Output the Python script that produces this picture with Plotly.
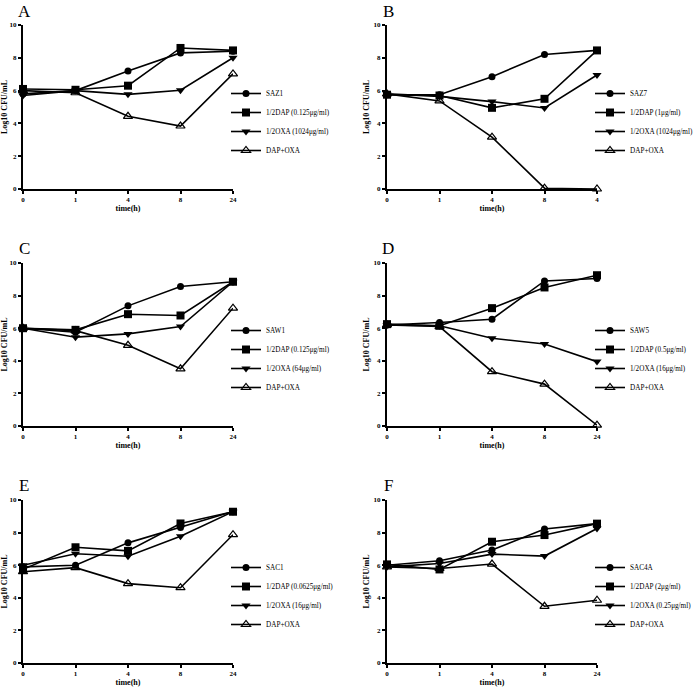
import plotly.graph_objects as go

W, H = 696, 687

panel_letters = ["A", "B", "C", "D", "E", "F"]
x_ticktext = [
    ["0", "1", "4", "8", "24"],
    ["0", "1", "4", "8", "4"],
    ["0", "1", "4", "8", "24"],
    ["0", "1", "4", "8", "24"],
    ["0", "1", "4", "8", "24"],
    ["0", "1", "4", "8", "24"],
]
time_points = [0, 1, 2, 3, 4]  # categorical positions for 0,1,4,8,24 h

strain_names = ["SAZ1", "SAZ7", "SAW1", "SAW5", "SAC1", "SAC4A"]
dap_labels = ["1/2DAP (0.125μg/ml)", "1/2DAP (1μg/ml)", "1/2DAP (0.125μg/ml)",
              "1/2DAP (0.5μg/ml)", "1/2DAP (0.0625μg/ml)", "1/2DAP (2μg/ml)"]
oxa_labels = ["1/2OXA (1024μg/ml)", "1/2OXA (1024μg/ml)", "1/2OXA (64μg/ml)",
              "1/2OXA (16μg/ml)", "1/2OXA (16μg/ml)", "1/2OXA (0.25μg/ml)"]
combo_label = "DAP+OXA"

# Log10 CFU/mL values per panel
control_vals = [
    [5.8, 6.0, 7.2, 8.3, 8.4],
    [5.75, 5.75, 6.85, 8.2, 8.45],
    [6.0, 5.75, 7.37, 8.56, 8.85],
    [6.2, 6.35, 6.55, 8.9, 9.05],
    [5.9, 6.0, 7.37, 8.32, 9.3],
    [6.0, 6.27, 6.93, 8.22, 8.55],
]
dap_vals = [
    [6.1, 6.05, 6.3, 8.6, 8.45],
    [5.75, 5.7, 4.95, 5.5, 8.45],
    [6.0, 5.9, 6.86, 6.78, 8.85],
    [6.25, 6.15, 7.23, 8.5, 9.25],
    [5.75, 7.1, 6.88, 8.56, 9.28],
    [6.05, 5.74, 7.44, 7.85, 8.55],
]
oxa_vals = [
    [5.7, 6.0, 5.77, 6.02, 8.0],
    [5.8, 5.65, 5.33, 4.94, 6.95],
    [6.0, 5.45, 5.65, 6.1, 8.85],
    [6.2, 6.15, 5.38, 5.03, 3.95],
    [6.0, 6.7, 6.55, 7.78, 9.28],
    [5.9, 6.1, 6.68, 6.56, 8.25],
]
combo_vals = [
    [6.0, 5.87, 4.43, 3.84, 7.02],
    [5.8, 5.37, 3.16, 0.05, 0.0],
    [6.0, 5.85, 4.95, 3.51, 7.23],
    [6.2, 6.1, 3.33, 2.57, 0.05],
    [5.6, 5.85, 4.87, 4.62, 7.87],
    [5.9, 5.8, 6.07, 3.48, 3.85],
]

# panel pixel boxes (left, right, top, bottom)
col_x = [(23, 233), (387, 597)]
row_y = [(25, 189), (263, 426), (500, 663)]

FONT = "Liberation Serif"
fig = go.Figure()
layout = dict(
    width=W, height=H, margin=dict(l=0, r=0, t=0, b=0, autoexpand=False),
    paper_bgcolor="white", plot_bgcolor="white", showlegend=True,
    font=dict(family=FONT, color="black"),
)
annotations = []

for i in range(6):
    r, c = divmod(i, 2)
    x0, x1 = col_x[c]
    y0, y1 = row_y[r]
    ax = "" if i == 0 else str(i + 1)
    xa, ya = "x" + ax, "y" + ax
    lg = "legend" + ("" if i == 0 else str(i + 1))
    series = [
        (strain_names[i], control_vals[i], dict(symbol="circle", size=7, color="black")),
        (dap_labels[i], dap_vals[i], dict(symbol="square", size=8, color="black")),
        (oxa_labels[i], oxa_vals[i], dict(symbol="triangle-down", size=8, color="black")),
        (combo_label, combo_vals[i], dict(symbol="triangle-up-open", size=8, color="black",
                                          line=dict(width=1.2, color="black"))),
    ]
    for name, vals, mk in series:
        fig.add_trace(go.Scatter(
            x=time_points, y=vals, name=name, mode="lines+markers",
            line=dict(color="black", width=1.6), marker=mk,
            xaxis=xa, yaxis=ya, legend=lg, cliponaxis=False,
        ))
    layout["xaxis" + ax] = dict(
        domain=[x0 / W, x1 / W], range=[0, 4], anchor=ya,
        tickmode="array", tickvals=time_points, ticktext=x_ticktext[i],
        showline=True, linecolor="black", linewidth=2, mirror=False,
        ticks="outside", ticklen=3, tickwidth=1.5, tickcolor="black",
        showgrid=False, zeroline=False,
        tickfont=dict(family=FONT, size=7, weight="bold"),
        title=dict(text="time(h)", font=dict(family=FONT, size=8, weight="bold"), standoff=1),
    )
    layout["yaxis" + ax] = dict(
        domain=[1 - y1 / H, 1 - y0 / H], range=[0, 10], anchor=xa,
        tickmode="array", tickvals=[0, 2, 4, 6, 8, 10],
        showline=True, linecolor="black", linewidth=2,
        ticks="outside", ticklen=3, tickwidth=1.5, tickcolor="black",
        showgrid=False, zeroline=False,
        tickfont=dict(family=FONT, size=7, weight="bold"),
        title=dict(text="Log10 CFU/mL", font=dict(family=FONT, size=8, weight="bold"), standoff=3),
    )
    layout[lg] = dict(
        x=(x1 - 7) / W, y=1 - (y1 - 110) / H, xanchor="left", yanchor="top",
        font=dict(family=FONT, size=7.2, color="black"), bgcolor="rgba(0,0,0,0)",
        itemwidth=30, tracegroupgap=0,
    )
    annotations.append(dict(
        text=panel_letters[i], x=(x0 + 1) / W, y=min(1.0, 1 - (y0 - 26) / H),
        xref="paper", yref="paper", showarrow=False, xanchor="center", yanchor="top",
        font=dict(family=FONT, size=17, color="black"),
    ))

layout["annotations"] = annotations
fig.update_layout(**layout)
fig.write_html("out.html", config={"displayModeBar": False},
               post_script="document.body.style.margin='0';")
